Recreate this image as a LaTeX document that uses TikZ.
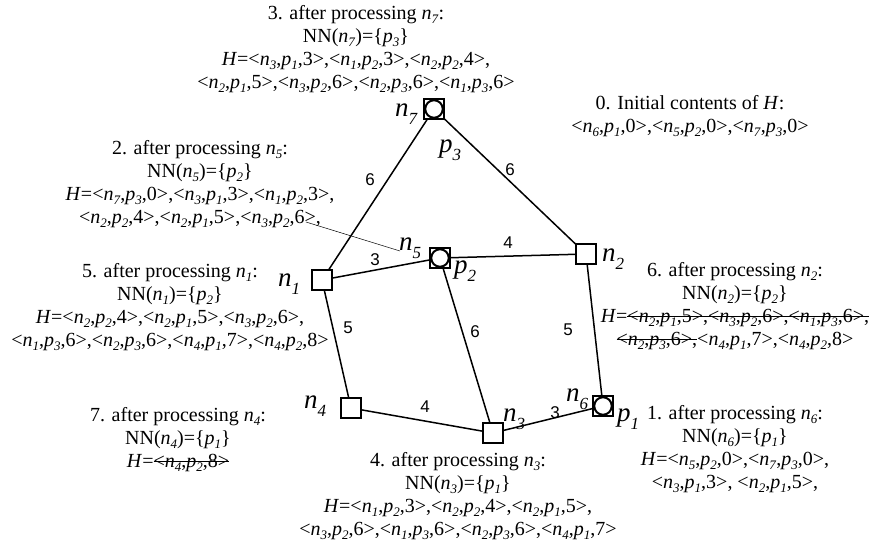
\documentclass[tikz,border=0pt]{standalone}
\usepackage{fontspec}
\setmainfont{Liberation Serif}
\newfontfamily\lblfont{Liberation Sans}
\newcommand{\sbs}[1]{\raisebox{-0.22em}{\fontsize{13}{13}\selectfont\textit{#1}}}
\newcommand{\nsub}[1]{\textit{n}\sbs{#1}}
\newcommand{\psub}[1]{\textit{p}\sbs{#1}}
\newcommand{\tri}[3]{<\nsub{#1},\psub{#2},#3>}
\newcommand{\lsb}[1]{\raisebox{-0.3em}{\fontsize{17}{17}\selectfont #1}}
\newsavebox{\stbx}
\newcommand{\strk}[1]{\sbox{\stbx}{#1}\rlap{\rule[0.3em]{\wd\stbx}{0.7pt}}\usebox{\stbx}}
\begin{document}
\begin{tikzpicture}[x=1pt,y=-1pt,
  sq/.style={draw, line width=1.5pt, minimum size=20pt, inner sep=0pt, fill=white},
  cc/.style={draw, circle, line width=2pt, minimum size=17.5pt, inner sep=0pt},
  edge/.style={line width=1.5pt},
  txt/.style={align=center, inner sep=0pt, anchor=north, font=\fontsize{20}{23}\selectfont},
  nl/.style={inner sep=0pt, font=\fontsize{27}{27}\selectfont\itshape},
  el/.style={inner sep=0pt, font=\lblfont\fontsize{17}{17}\selectfont}]
\useasboundingbox (0,0) rectangle (871,550);
% nodes
\node[sq] (n7) at (434,109) {};
\node[sq] (n5) at (440,258) {};
\node[sq] (n2) at (586,254) {};
\node[sq] (n1) at (322,280) {};
\node[sq] (n4) at (351,408) {};
\node[sq] (n3) at (493,433) {};
\node[sq] (n6) at (603,406) {};
\node[cc] (c7) at (n7) {};
\node[cc] (c5) at (n5) {};
\node[cc] (c6) at (n6) {};
% edges
\draw[edge] (n7) -- (n1);
\draw[edge] (n7) -- (n2);
\draw[edge] (n1) -- (n5);
\draw[edge] (n5) -- (n2);
\draw[edge] (n1) -- (n4);
\draw[edge] (n5) -- (n3);
\draw[edge] (n2) -- (n6);
\draw[edge] (n4) -- (n3);
\draw[edge] (n3) -- (n6);
% node labels
\node[nl] (ln7) at (406,114) {n\lsb{7}};
\node[nl] (lp3) at (450,150) {p\lsb{3}};
\node[nl] (ln5) at (410,248) {n\lsb{5}};
\node[nl] (lp2) at (465,271) {p\lsb{2}};
\node[nl] (ln2) at (613,259) {n\lsb{2}};
\node[nl] (ln1) at (289,284) {n\lsb{1}};
\node[nl] (ln4) at (315,406) {n\lsb{4}};
\node[nl] (ln3) at (514,419) {n\lsb{3}};
\node[nl] (ln6) at (577,399) {n\lsb{6}};
\node[nl] (lp1) at (628,419) {p\lsb{1}};
% edge labels
\node[el] (e71) at (370,180) {6};
\node[el] (e72) at (510,170) {6};
\node[el] (e15) at (375,260) {3};
\node[el] (e52) at (508,243) {4};
\node[el] (e14) at (348,328) {5};
\node[el] (e53) at (475,332) {6};
\node[el] (e26) at (568,330) {5};
\node[el] (e43) at (425,407) {4};
\node[el] (e36) at (555,413) {3};
% callout
\coordinate (cs) at (306,222);
\coordinate (ce) at (400,251);
\draw[line width=0.5pt] (cs) -- (ce);
% text blocks
\node[txt] (b3) at (356,5) {3. after processing \nsub{7}:\\
NN(\nsub{7})=\{\psub{3}\}\\
\textit{H}=\tri{3}{1}{3},\tri{1}{2}{3},\tri{2}{2}{4},\\
\tri{2}{1}{5},\tri{3}{2}{6},\tri{2}{3}{6},\tri{1}{3}{6}};
\node[txt] (b0) at (690,95) {0. Initial contents of \textit{H}:\\
\tri{6}{1}{0},\tri{5}{2}{0},\tri{7}{3}{0}};
\node[txt] (b2) at (200,140) {2. after processing \nsub{5}:\\
NN(\nsub{5})=\{\psub{2}\}\\
\textit{H}=\tri{7}{3}{0},\tri{3}{1}{3},\tri{1}{2}{3},\\
\tri{2}{2}{4},\tri{2}{1}{5},\tri{3}{2}{6},};
\node[txt] (b5) at (170,263) {5. after processing \nsub{1}:\\
NN(\nsub{1})=\{\psub{2}\}\\
\textit{H}=\tri{2}{2}{4},\tri{2}{1}{5},\tri{3}{2}{6},\\
\tri{1}{3}{6},\tri{2}{3}{6},\tri{4}{1}{7},\tri{4}{2}{8}};
\node[txt] (b6) at (735,262) {6. after processing \nsub{2}:\\
NN(\nsub{2})=\{\psub{2}\}\\
\textit{H}=\strk{\tri{2}{1}{5},\tri{3}{2}{6},\tri{1}{3}{6},}\\
\strk{\tri{2}{3}{6},}\tri{4}{1}{7},\tri{4}{2}{8}};
\node[txt] (b7) at (178,407) {7. after processing \nsub{4}:\\
NN(\nsub{4})=\{\psub{1}\}\\
\textit{H}=\strk{\tri{4}{2}{8}}};
\node[txt] (b1) at (735,405) {1. after processing \nsub{6}:\\
NN(\nsub{6})=\{\psub{1}\}\\
\textit{H}=\tri{5}{2}{0},\tri{7}{3}{0},\\
\tri{3}{1}{3}, \tri{2}{1}{5},};
\node[txt] (b4) at (458,452) {4. after processing \nsub{3}:\\
NN(\nsub{3})=\{\psub{1}\}\\
\textit{H}=\tri{1}{2}{3},\tri{2}{2}{4},\tri{2}{1}{5},\\
\tri{3}{2}{6},\tri{1}{3}{6},\tri{2}{3}{6},\tri{4}{1}{7}};
\end{tikzpicture}
\end{document}
